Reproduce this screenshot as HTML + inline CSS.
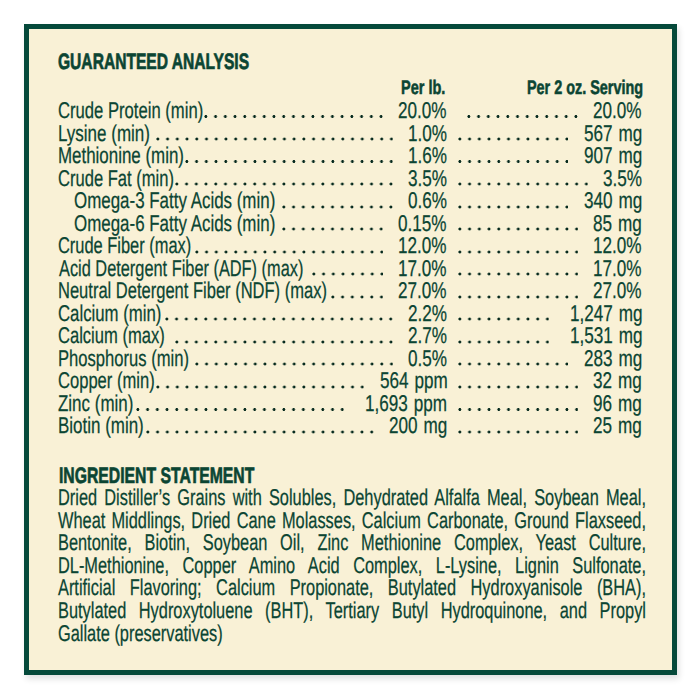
<!DOCTYPE html>
<html><head><meta charset="utf-8"><style>
html,body{margin:0;padding:0;background:#fff;width:700px;height:700px;overflow:hidden}
.box{position:absolute;left:23.8px;top:23.8px;width:653px;height:650.8px;box-sizing:border-box;border:5.5px solid #05493a;background:#f9f1d6;box-shadow:2px 4px 6px rgba(0,0,20,0.12)}
.t{position:absolute;font-family:"Liberation Sans",sans-serif;color:#0b4533;white-space:pre;font-size:22.8px;line-height:22.8px;transform-origin:0 0;-webkit-text-stroke:0.25px #0b4533;text-rendering:geometricPrecision}
.h{font-weight:bold;font-size:22.3px;line-height:22.3px;-webkit-text-stroke:0.7px #0b4533}
.p{font-weight:bold;font-size:19.6px;line-height:19.6px;-webkit-text-stroke:0.56px #0b4533}
.d{position:absolute;height:3.7px;background-image:radial-gradient(circle at 1.85px 50%, #04281c 0, #04281c 1.1px, rgba(4,40,28,0) 1.8px);background-size:9.735px 100%;background-repeat:repeat-x}
</style></head><body>
<div class="box"></div>
<div class="t h" style="left:58.45px;top:51.22px;transform:scaleX(0.6989)">GUARANTEED ANALYSIS</div>
<div class="t p" style="left:401.47px;top:78.51px;transform:scaleX(0.7394)">Per lb.</div>
<div class="t p" style="left:527.27px;top:78.51px;transform:scaleX(0.7352)">Per 2 oz. Serving</div>
<div class="t " style="left:58.26px;top:99.10px;transform:scaleX(0.7300)">Crude Protein (min)</div>
<div class="t " style="left:398.34px;top:99.10px;transform:scaleX(0.7510);word-spacing:1.6px">20.0%</div>
<div class="t " style="left:593.34px;top:99.10px;transform:scaleX(0.7510);word-spacing:1.6px">20.0%</div>
<div class="d" style="left:204.42px;top:114.75px;width:178.93px"></div>
<div class="d" style="left:467.27px;top:114.75px;width:110.78px"></div>
<div class="t " style="left:57.50px;top:121.62px;transform:scaleX(0.7459)">Lysine (min)</div>
<div class="t " style="left:408.11px;top:121.62px;transform:scaleX(0.7510);word-spacing:1.6px">1.0%</div>
<div class="t " style="left:584.33px;top:121.62px;transform:scaleX(0.7510);word-spacing:1.6px">567 mg</div>
<div class="d" style="left:155.75px;top:137.27px;width:237.34px"></div>
<div class="d" style="left:457.53px;top:137.27px;width:110.78px"></div>
<div class="t " style="left:57.51px;top:144.14px;transform:scaleX(0.7420)">Methionine (min)</div>
<div class="t " style="left:408.11px;top:144.14px;transform:scaleX(0.7510);word-spacing:1.6px">1.6%</div>
<div class="t " style="left:584.33px;top:144.14px;transform:scaleX(0.7510);word-spacing:1.6px">907 mg</div>
<div class="d" style="left:184.96px;top:159.79px;width:208.13px"></div>
<div class="d" style="left:457.53px;top:159.79px;width:110.78px"></div>
<div class="t " style="left:58.26px;top:166.66px;transform:scaleX(0.7262)">Crude Fat (min)</div>
<div class="t " style="left:408.11px;top:166.66px;transform:scaleX(0.7510);word-spacing:1.6px">3.5%</div>
<div class="t " style="left:603.11px;top:166.66px;transform:scaleX(0.7510);word-spacing:1.6px">3.5%</div>
<div class="d" style="left:175.22px;top:182.31px;width:217.87px"></div>
<div class="d" style="left:457.53px;top:182.31px;width:130.25px"></div>
<div class="t " style="left:74.35px;top:189.18px;transform:scaleX(0.7424)">Omega-3 Fatty Acids (min)</div>
<div class="t " style="left:408.11px;top:189.18px;transform:scaleX(0.7510);word-spacing:1.6px">0.6%</div>
<div class="t " style="left:584.33px;top:189.18px;transform:scaleX(0.7510);word-spacing:1.6px">340 mg</div>
<div class="d" style="left:282.30px;top:204.83px;width:110.78px"></div>
<div class="d" style="left:457.53px;top:204.83px;width:110.78px"></div>
<div class="t " style="left:74.35px;top:211.70px;transform:scaleX(0.7424)">Omega-6 Fatty Acids (min)</div>
<div class="t " style="left:398.34px;top:211.70px;transform:scaleX(0.7510);word-spacing:1.6px">0.15%</div>
<div class="t " style="left:593.34px;top:211.70px;transform:scaleX(0.7510);word-spacing:1.6px">85 mg</div>
<div class="d" style="left:282.30px;top:227.35px;width:101.05px"></div>
<div class="d" style="left:457.53px;top:227.35px;width:120.52px"></div>
<div class="t " style="left:58.27px;top:234.22px;transform:scaleX(0.7203)">Crude Fiber (max)</div>
<div class="t " style="left:398.34px;top:234.22px;transform:scaleX(0.7510);word-spacing:1.6px">12.0%</div>
<div class="t " style="left:593.34px;top:234.22px;transform:scaleX(0.7510);word-spacing:1.6px">12.0%</div>
<div class="d" style="left:194.69px;top:249.87px;width:188.66px"></div>
<div class="d" style="left:457.53px;top:249.87px;width:120.52px"></div>
<div class="t " style="left:58.99px;top:256.74px;transform:scaleX(0.7171)">Acid Detergent Fiber (ADF) (max)</div>
<div class="t " style="left:398.34px;top:256.74px;transform:scaleX(0.7510);word-spacing:1.6px">17.0%</div>
<div class="t " style="left:593.34px;top:256.74px;transform:scaleX(0.7510);word-spacing:1.6px">17.0%</div>
<div class="d" style="left:311.51px;top:272.39px;width:71.84px"></div>
<div class="d" style="left:457.53px;top:272.39px;width:120.52px"></div>
<div class="t " style="left:57.54px;top:279.26px;transform:scaleX(0.7245)">Neutral Detergent Fiber (NDF) (max)</div>
<div class="t " style="left:398.34px;top:279.26px;transform:scaleX(0.7510);word-spacing:1.6px">27.0%</div>
<div class="t " style="left:593.34px;top:279.26px;transform:scaleX(0.7510);word-spacing:1.6px">27.0%</div>
<div class="d" style="left:330.98px;top:294.91px;width:52.38px"></div>
<div class="d" style="left:457.53px;top:294.91px;width:120.52px"></div>
<div class="t " style="left:58.26px;top:301.78px;transform:scaleX(0.7356)">Calcium (min)</div>
<div class="t " style="left:408.11px;top:301.78px;transform:scaleX(0.7510);word-spacing:1.6px">2.2%</div>
<div class="t " style="left:570.06px;top:301.78px;transform:scaleX(0.7510);word-spacing:1.6px">1,247 mg</div>
<div class="d" style="left:165.48px;top:317.43px;width:227.60px"></div>
<div class="d" style="left:457.53px;top:317.43px;width:91.31px"></div>
<div class="t " style="left:58.26px;top:324.30px;transform:scaleX(0.7263)">Calcium (max)</div>
<div class="t " style="left:408.11px;top:324.30px;transform:scaleX(0.7510);word-spacing:1.6px">2.7%</div>
<div class="t " style="left:570.06px;top:324.30px;transform:scaleX(0.7510);word-spacing:1.6px">1,531 mg</div>
<div class="d" style="left:175.22px;top:339.95px;width:217.87px"></div>
<div class="d" style="left:457.53px;top:339.95px;width:91.31px"></div>
<div class="t " style="left:57.53px;top:346.82px;transform:scaleX(0.7283)">Phosphorus (min)</div>
<div class="t " style="left:408.11px;top:346.82px;transform:scaleX(0.7510);word-spacing:1.6px">0.5%</div>
<div class="t " style="left:584.33px;top:346.82px;transform:scaleX(0.7510);word-spacing:1.6px">283 mg</div>
<div class="d" style="left:194.69px;top:362.47px;width:198.40px"></div>
<div class="d" style="left:457.53px;top:362.47px;width:110.78px"></div>
<div class="t " style="left:58.26px;top:369.34px;transform:scaleX(0.7269)">Copper (min)</div>
<div class="t " style="left:379.57px;top:369.34px;transform:scaleX(0.7510);word-spacing:1.6px">564 ppm</div>
<div class="t " style="left:593.34px;top:369.34px;transform:scaleX(0.7510);word-spacing:1.6px">32 mg</div>
<div class="d" style="left:155.75px;top:384.99px;width:208.13px"></div>
<div class="d" style="left:457.53px;top:384.99px;width:120.52px"></div>
<div class="t " style="left:58.25px;top:391.86px;transform:scaleX(0.7436)">Zinc (min)</div>
<div class="t " style="left:365.30px;top:391.86px;transform:scaleX(0.7510);word-spacing:1.6px">1,693 ppm</div>
<div class="t " style="left:593.34px;top:391.86px;transform:scaleX(0.7510);word-spacing:1.6px">96 mg</div>
<div class="d" style="left:136.28px;top:407.51px;width:208.13px"></div>
<div class="d" style="left:457.53px;top:407.51px;width:120.52px"></div>
<div class="t " style="left:57.51px;top:414.38px;transform:scaleX(0.7439)">Biotin (min)</div>
<div class="t " style="left:389.33px;top:414.38px;transform:scaleX(0.7510);word-spacing:1.6px">200 mg</div>
<div class="t " style="left:593.34px;top:414.38px;transform:scaleX(0.7510);word-spacing:1.6px">25 mg</div>
<div class="d" style="left:146.02px;top:430.03px;width:227.60px"></div>
<div class="d" style="left:457.53px;top:430.03px;width:120.52px"></div>
<div class="t h" style="left:59.14px;top:464.52px;transform:scaleX(0.7062)">INGREDIENT STATEMENT</div>
<div class="t" style="left:58.30px;top:486.25px;width:818.94px;white-space:normal;text-align:justify;text-align-last:justify;transform:scaleX(0.718)">Dried Distiller’s Grains with Solubles, Dehydrated Alfalfa Meal, Soybean Meal,</div>
<div class="t" style="left:58.30px;top:508.80px;width:818.94px;white-space:normal;text-align:justify;text-align-last:justify;transform:scaleX(0.718)">Wheat Middlings, Dried Cane Molasses, Calcium Carbonate, Ground Flaxseed,</div>
<div class="t" style="left:58.30px;top:531.35px;width:818.94px;white-space:normal;text-align:justify;text-align-last:justify;transform:scaleX(0.718)">Bentonite, Biotin, Soybean Oil, Zinc Methionine Complex, Yeast Culture,</div>
<div class="t" style="left:58.30px;top:553.90px;width:818.94px;white-space:normal;text-align:justify;text-align-last:justify;transform:scaleX(0.718)">DL-Methionine, Copper Amino Acid Complex, L-Lysine, Lignin Sulfonate,</div>
<div class="t" style="left:58.30px;top:576.45px;width:818.94px;white-space:normal;text-align:justify;text-align-last:justify;transform:scaleX(0.718)">Artificial Flavoring; Calcium Propionate, Butylated Hydroxyanisole (BHA),</div>
<div class="t" style="left:58.30px;top:599.00px;width:818.94px;white-space:normal;text-align:justify;text-align-last:justify;transform:scaleX(0.718)">Butylated Hydroxytoluene (BHT), Tertiary Butyl Hydroquinone, and Propyl</div>
<div class="t" style="left:58.30px;top:621.55px;transform:scaleX(0.718)">Gallate (preservatives)</div>
</body></html>
